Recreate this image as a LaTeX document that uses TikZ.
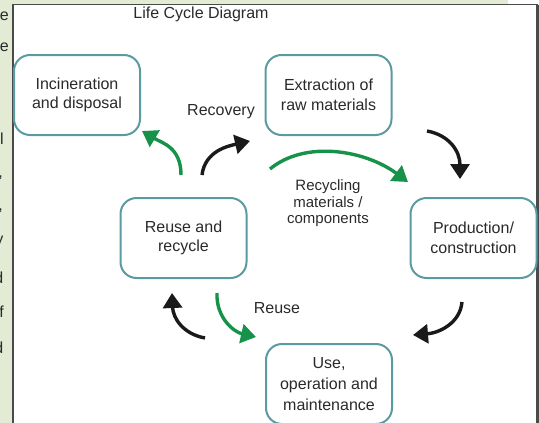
\documentclass[tikz,border=0pt]{standalone}
\usepackage{fontspec}
\setmainfont{Liberation Sans}
\usetikzlibrary{arrows.meta}
\definecolor{stripgreen}{HTML}{E3EBD5}
\definecolor{boxteal}{HTML}{5A9AA2}
\definecolor{arrgreen}{HTML}{16924A}
\definecolor{txt}{HTML}{2A2A2A}
\definecolor{frameline}{HTML}{4A4A4A}
\definecolor{arrblack}{HTML}{1A1A1A}
\begin{document}
\begin{tikzpicture}[x=1pt,y=-1pt,
  stage/.style={draw=boxteal, line width=2pt, rounded corners=16pt, fill=white,
    minimum width=126pt, minimum height=80pt, align=center, text=txt,
    font=\fontsize{16}{19.5}\selectfont, inner sep=0pt},
  flow/.style={line width=3.4pt, -{Triangle[length=15pt,width=19pt]}},
  blackflow/.style={flow, draw=arrblack},
  greenflow/.style={flow, draw=arrgreen},
  lbl/.style={text=txt, font=\fontsize{16}{19}\selectfont, inner sep=0pt},
  cut/.style={text=txt, font=\fontsize{16}{19}\selectfont, inner sep=0pt, anchor=base east}]

\useasboundingbox (0,0) rectangle (539,423);
% page background strips
\fill[stripgreen] (0,0) rectangle (13,423);
\fill[stripgreen] (0,0) rectangle (508,4.5);
\begin{scope}
  \clip (0,0) rectangle (12,423);
  \node[cut] (c1) at (9,20) {e};
  \node[cut] (c2) at (9,51) {e};
  \node[cut] (c3) at (4,144) {l};
  \node[cut] (c4) at (3,177) {,};
  \node[cut] (c5) at (3,210) {,};
  \node[cut] (c6) at (3.5,244) {y};
  \node[cut] (c7) at (3.5,283) {d};
  \node[cut] (c8) at (4,317) {f};
  \node[cut] (c9) at (3.5,353) {d};
\end{scope}
\draw[frameline, line width=1.3pt] (13,423) -- (13,4.5) -- (537.5,4.5);
\draw[frameline, line width=2.5pt] (537.7,4.5) -- (537.7,423);

% title
\node[lbl, anchor=base] (title) at (201,18.5) {Life Cycle Diagram};

% stages
\node[stage] (inc)  at (77,95)    {Incineration\\and disposal};
\node[stage] (ext)  at (328.5,95) {Extraction of\\raw materials};
\node[stage] (prod) at (473.5,238) {Production/\\construction};
\node[stage] (reu)  at (183.5,238) {Reuse and\\recycle};
\node[stage, font=\fontsize{16}{21}\selectfont] (use) at (329,384) {Use,\\operation and\\maintenance};

% labels
\node[lbl, anchor=base] (rec) at (221,115) {Recovery};
\node[lbl, anchor=base] (reuselbl) at (277,313) {Reuse};
\node[lbl, align=center, font=\fontsize{15}{16.5}\selectfont] (recyc) at (328,203.5) {Recycling\\materials /\\components};

% arrow end points
\coordinate (g1s) at (181,175);
\coordinate (g1e) at (142,131);
\coordinate (b1s) at (202,175);
\coordinate (b1e) at (250,141);
\coordinate (g2s) at (270,169);
\coordinate (g2e) at (408,182);
\coordinate (b2s) at (427,131);
\coordinate (b2e) at (460,179);
\coordinate (b3s) at (462,302);
\coordinate (b3e) at (413,335);
\coordinate (g3s) at (217,293);
\coordinate (g3e) at (256,337);
\coordinate (b4s) at (205,338);
\coordinate (b4e) at (172,293);

% arrows
\draw[greenflow] (g1s) .. controls +(0,-28) and +(20,12) .. (g1e);
\draw[blackflow] (b1s) .. controls +(3,-24) and +(-22,5) .. (b1e);
\draw[greenflow] (g2s) .. controls +(35,-29) and +(-43,-32) .. (g2e);
\draw[blackflow] (b2s) .. controls +(22,4) and +(0,-28) .. (b2e);
\draw[blackflow] (b3s) .. controls +(-2,22) and +(25,-2) .. (b3e);
\draw[greenflow] (g3s) .. controls +(-1,25) and +(-22,-5) .. (g3e);
\draw[blackflow] (b4s) .. controls +(-22,-4) and +(1,25) .. (b4e);
\end{tikzpicture}
\end{document}
